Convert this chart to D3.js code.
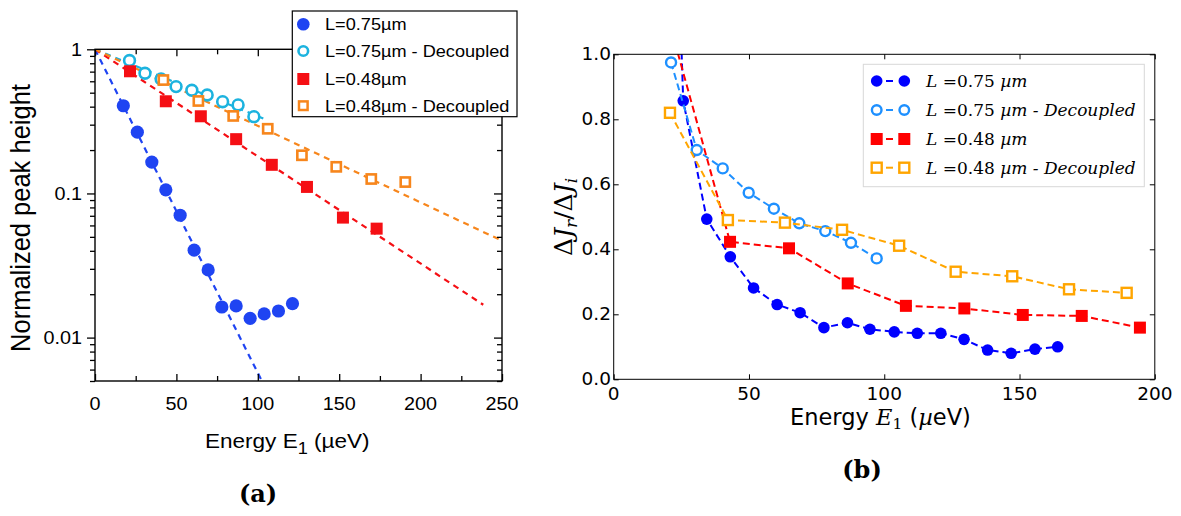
<!DOCTYPE html>
<html><head><meta charset="utf-8">
<script src="https://cdn.jsdelivr.net/npm/d3@7"></script>
<style>body{margin:0;background:#fff}svg{display:block}</style>
</head><body>
<svg id="c" width="1181" height="516"></svg>
<script>
// ---------------- DATA: panel (a) ----------------
const aEnergy075 = [17.4,26.0,34.9,43.5,52.3,60.9,69.5,77.9,86.7,95.3,103.9,112.7,121.3];
const aPeak075   = [0.406,0.266,0.165,0.106,0.0706,0.0404,0.0295,0.0163,0.0166,0.0136,0.0146,0.0153,0.0172];
const aEnergy075D = [21.2,30.7,40.6,49.8,59.5,68.9,78.4,87.9,97.6];
const aPeak075D   = [0.836,0.682,0.622,0.551,0.520,0.482,0.433,0.411,0.341];
const aEnergy048 = [21.5,43.5,65.0,86.7,108.6,130.2,152.3,173.0];
const aPeak048   = [0.704,0.436,0.343,0.238,0.158,0.111,0.068,0.057];
const aEnergy048D = [42.0,63.5,84.9,106.1,127.1,148.2,169.7,190.6];
const aPeak048D   = [0.612,0.438,0.345,0.281,0.184,0.153,0.126,0.120];
// exponential fits (straight lines on log axis), end points
const aFitEnergy075 = [0,102.5],  aFitPeak075 = [1,0.005];
const aFitEnergy075D = [0,105],   aFitPeak075D = [1,0.325];
const aFitEnergy048 = [0,238.5],  aFitPeak048 = [1,0.0169];
const aFitEnergy048D = [0,250],   aFitPeak048D = [1,0.047];
const aLegend = ["L=0.75\u00b5m","L=0.75\u00b5m - Decoupled","L=0.48\u00b5m","L=0.48\u00b5m - Decoupled"];
const aXTicks = [0,50,100,150,200,250];
const aXMinor = [25,75,125,175,225];
const aYTicks = [1,0.1,0.01];
const aYTickLabels = ["1","0.1","0.01"];
const aYMinor = [0.005,0.006,0.007,0.008,0.009,0.02,0.03,0.04,0.05,0.06,0.07,0.08,0.09,0.2,0.3,0.4,0.5,0.6,0.7,0.8,0.9];

// ---------------- DATA: panel (b) ----------------
const bEnergy075 = [17.4,25.7,34.4,43.1,51.7,60.4,68.9,77.7,86.4,94.7,103.7,112.2,120.9,129.5,138.2,146.9,155.7,164.1];
const bRatio075  = [2.9,0.857,0.493,0.377,0.281,0.230,0.205,0.159,0.174,0.154,0.146,0.1415,0.1415,0.123,0.090,0.080,0.093,0.100];
const bEnergy075D = [21.2,30.7,40.3,49.9,59.2,68.6,78.2,87.7,97.2];
const bRatio075D  = [0.975,0.7055,0.649,0.574,0.525,0.480,0.456,0.420,0.372];
const bEnergy048 = [21.5,43.0,64.8,86.5,108.0,129.6,151.2,173.0,194.5];
const bRatio048  = [1.07,0.423,0.403,0.295,0.226,0.218,0.198,0.195,0.159];
const bEnergy048D = [20.8,42.2,63.3,84.4,105.5,126.4,147.3,168.3,189.6];
const bRatio048D  = [0.820,0.490,0.482,0.460,0.411,0.331,0.317,0.277,0.266];
const bXTicks = [0,50,100,150,200];
const bYTicks = [0,0.2,0.4,0.6,0.8,1.0];
const bYTickLabels = ["0.0","0.2","0.4","0.6","0.8","1.0"];

// ---------------- helpers ----------------
const svg = d3.select("#c");
const zip = (xs, ys) => xs.map((x,i)=>({x, y: ys[i]}));
function stext(g, x, y, sx, str, o) {
  const t = g.append("text")
    .attr("transform", `translate(${x},${y}) scale(${sx},1)` + (o.rot ? " rotate(-90)" : ""))
    .attr("font-family", o.ff).attr("font-size", o.fs)
    .attr("text-anchor", o.anchor || "start").attr("fill", "#000");
  if (o.weight) t.attr("font-weight", o.weight);
  if (str !== null) t.text(str);
  return t;
}

// ================= PANEL (a) =================
const SANS = "'Liberation Sans', Arial, Helvetica, sans-serif";
const SXA = 1.1;
const A = {l:95, r:502, t:49.3, b:381};
const xA = d3.scaleLinear().domain([0,250]).range([A.l, A.r]);
const yA = d3.scaleLog().domain([0.005,1]).range([A.b, A.t]);
const ga = svg.append("g");
ga.append("clipPath").attr("id","clipA").append("rect")
  .attr("x",A.l).attr("y",A.t).attr("width",A.r-A.l).attr("height",A.b-A.t);

const colA = {b:"#1f44f2", c:"#1cb3df", r:"#f50f14", o:"#f7861c"};
const lineA = d3.line().x(d=>xA(d.x)).y(d=>yA(d.y));
const plotA = ga.append("g").attr("clip-path","url(#clipA)");
[[aFitEnergy075,aFitPeak075,colA.b],[aFitEnergy075D,aFitPeak075D,colA.c],
 [aFitEnergy048,aFitPeak048,colA.r],[aFitEnergy048D,aFitPeak048D,colA.o]].forEach(([xs,ys,c])=>{
  plotA.append("path").attr("d", lineA(zip(xs,ys))).attr("fill","none")
    .attr("stroke",c).attr("stroke-width",2.2).attr("stroke-dasharray","6,5");
});
plotA.selectAll(".pb").data(zip(aEnergy075,aPeak075)).join("circle")
  .attr("cx",d=>xA(d.x)).attr("cy",d=>yA(d.y)).attr("r",6.6).attr("fill",colA.b);
plotA.selectAll(".pc").data(zip(aEnergy075D,aPeak075D)).join("circle")
  .attr("cx",d=>xA(d.x)).attr("cy",d=>yA(d.y)).attr("r",5.4).attr("fill","#fff")
  .attr("stroke",colA.c).attr("stroke-width",2.6);
plotA.selectAll(".pr").data(zip(aEnergy048,aPeak048)).join("rect")
  .attr("x",d=>xA(d.x)-6).attr("y",d=>yA(d.y)-6).attr("width",12).attr("height",12).attr("fill",colA.r);
plotA.selectAll(".po").data(zip(aEnergy048D,aPeak048D)).join("rect")
  .attr("x",d=>xA(d.x)-4.6).attr("y",d=>yA(d.y)-4.6).attr("width",9.2).attr("height",9.2)
  .attr("fill","#fff").attr("stroke",colA.o).attr("stroke-width",2.6);

function styleAxis(sel){ sel.select(".domain").remove(); sel.selectAll("line").attr("stroke","#000").attr("stroke-width",1.3); sel.selectAll("text").remove(); }
ga.append("g").attr("transform",`translate(0,${A.b})`).call(d3.axisBottom(xA).tickValues(aXTicks).tickSize(-7)).call(styleAxis);
ga.append("g").attr("transform",`translate(0,${A.b})`).call(d3.axisBottom(xA).tickValues(aXMinor).tickSize(-5)).call(styleAxis);
ga.append("g").attr("transform",`translate(0,${A.t})`).call(d3.axisTop(xA).tickValues(aXTicks).tickSize(-7)).call(styleAxis);
ga.append("g").attr("transform",`translate(0,${A.t})`).call(d3.axisTop(xA).tickValues(aXMinor).tickSize(-5)).call(styleAxis);
ga.append("g").attr("transform",`translate(${A.l},0)`).call(d3.axisLeft(yA).tickValues(aYTicks).tickSize(8)).call(styleAxis);
ga.append("g").attr("transform",`translate(${A.l},0)`).call(d3.axisLeft(yA).tickValues(aYMinor).tickSize(5)).call(styleAxis);
ga.append("g").attr("transform",`translate(${A.r},0)`).call(d3.axisRight(yA).tickValues(aYTicks).tickSize(-8)).call(styleAxis);
ga.append("g").attr("transform",`translate(${A.r},0)`).call(d3.axisRight(yA).tickValues(aYMinor).tickSize(-5)).call(styleAxis);
ga.append("rect").attr("x",A.l).attr("y",A.t).attr("width",A.r-A.l).attr("height",A.b-A.t)
  .attr("fill","none").attr("stroke","#000").attr("stroke-width",1.4);

aXTicks.forEach(v=>stext(ga, xA(v), 409.5, SXA, String(v), {ff:SANS, fs:18, anchor:"middle"}));
aYTicks.forEach((v,i)=>stext(ga, 82, yA(v)+6.5, SXA, aYTickLabels[i], {ff:SANS, fs:18, anchor:"end"}));
stext(ga, 30, 218, SXA, "Normalized peak height", {ff:SANS, fs:25.5, anchor:"middle", rot:true});
{
  const t = stext(ga, 205, 448, SXA, null, {ff:SANS, fs:20.5, anchor:"start"});
  t.append("tspan").text("Energy E");
  t.append("tspan").attr("dy",6).attr("font-size",16.5).text("1");
  t.append("tspan").attr("dy",-6).text(" (\u00b5eV)");
}
// legend (a)
const legA = ga.append("g");
legA.append("rect").attr("x",292.3).attr("y",11).attr("width",224.7).attr("height",105.7)
  .attr("fill","#fff").attr("stroke","#000").attr("stroke-width",1.2);
const legRowsA = [24.3,51,79,105.7];
legA.append("circle").attr("cx",303.3).attr("cy",legRowsA[0]).attr("r",6.3).attr("fill",colA.b);
legA.append("circle").attr("cx",303.3).attr("cy",legRowsA[1]).attr("r",4.8).attr("fill","#fff").attr("stroke",colA.c).attr("stroke-width",2.6);
legA.append("rect").attr("x",297.3).attr("y",legRowsA[2]-6).attr("width",12).attr("height",12).attr("fill",colA.r);
legA.append("rect").attr("x",299).attr("y",legRowsA[3]-4.3).attr("width",8.6).attr("height",8.6).attr("fill","#fff").attr("stroke",colA.o).attr("stroke-width",2.5);
aLegend.forEach((s,i)=>stext(legA, 325, legRowsA[i]+6, SXA, s, {ff:SANS, fs:16.5}));
stext(ga, 258, 502, 1, "(a)", {ff:"'DejaVu Serif', serif", fs:24, anchor:"middle", weight:"bold"});

// ================= PANEL (b) =================
const DSANS = "'DejaVu Sans', sans-serif";
const SERIF = "'DejaVu Serif', serif";
const B = {l:613.7, r:1154.8, t:54.3, b:379.3};
const xB = d3.scaleLinear().domain([0,200]).range([B.l, B.r]);
const yB = d3.scaleLinear().domain([0,1]).range([B.b, B.t]);
const gb = svg.append("g");
gb.append("clipPath").attr("id","clipB").append("rect")
  .attr("x",B.l).attr("y",B.t).attr("width",B.r-B.l).attr("height",B.b-B.t);
const colB = {b:"#0000ff", c:"#1e90ff", r:"#ff0000", o:"#ffa500"};
const lineB = d3.line().x(d=>xB(d.x)).y(d=>yB(d.y));
const plotB = gb.append("g").attr("clip-path","url(#clipB)");
function seriesB(xs, ys, c, kind){
  const d = zip(xs,ys);
  plotB.append("path").attr("d",lineB(d)).attr("fill","none").attr("stroke",c)
    .attr("stroke-width",2).attr("stroke-dasharray","7,4");
  const g = plotB.append("g");
  if (kind==="fc") g.selectAll("circle").data(d).join("circle").attr("cx",p=>xB(p.x)).attr("cy",p=>yB(p.y)).attr("r",5.8).attr("fill",c);
  if (kind==="oc") g.selectAll("circle").data(d).join("circle").attr("cx",p=>xB(p.x)).attr("cy",p=>yB(p.y)).attr("r",5).attr("fill","#fff").attr("stroke",c).attr("stroke-width",2.4);
  if (kind==="fs") g.selectAll("rect").data(d).join("rect").attr("x",p=>xB(p.x)-6).attr("y",p=>yB(p.y)-6).attr("width",12).attr("height",12).attr("fill",c);
  if (kind==="os") g.selectAll("rect").data(d).join("rect").attr("x",p=>xB(p.x)-5).attr("y",p=>yB(p.y)-5).attr("width",10).attr("height",10).attr("fill","#fff").attr("stroke",c).attr("stroke-width",2.4);
}
seriesB(bEnergy075, bRatio075, colB.b, "fc");
seriesB(bEnergy075D, bRatio075D, colB.c, "oc");
seriesB(bEnergy048, bRatio048, colB.r, "fs");
seriesB(bEnergy048D, bRatio048D, colB.o, "os");

function styleAxisB(sel){ sel.select(".domain").remove(); sel.selectAll("line").attr("stroke","#000").attr("stroke-width",1); sel.selectAll("text").remove(); }
gb.append("g").attr("transform",`translate(0,${B.b})`).call(d3.axisBottom(xB).tickValues(bXTicks).tickSize(-5)).call(styleAxisB);
gb.append("g").attr("transform",`translate(0,${B.t})`).call(d3.axisTop(xB).tickValues(bXTicks).tickSize(-5)).call(styleAxisB);
gb.append("g").attr("transform",`translate(${B.l},0)`).call(d3.axisLeft(yB).tickValues(bYTicks).tickSize(-5)).call(styleAxisB);
gb.append("g").attr("transform",`translate(${B.r},0)`).call(d3.axisRight(yB).tickValues(bYTicks).tickSize(-5)).call(styleAxisB);
gb.append("rect").attr("x",B.l).attr("y",B.t).attr("width",B.r-B.l).attr("height",B.b-B.t)
  .attr("fill","none").attr("stroke","#000").attr("stroke-width",1);

bXTicks.forEach(v=>stext(gb, xB(v), 400, 1, String(v), {ff:DSANS, fs:18.5, anchor:"middle"}));
bYTicks.forEach((v,i)=>stext(gb, 611, yB(v)+6, 1, bYTickLabels[i], {ff:DSANS, fs:18.5, anchor:"end"}));
{
  const t = stext(gb, 572, 217, 1, null, {ff:SERIF, fs:25, anchor:"middle", rot:true});
  t.append("tspan").text("\u0394");
  t.append("tspan").attr("font-style","italic").text("J");
  t.append("tspan").attr("font-style","italic").attr("font-size",17).attr("dy",5).text("r");
  t.append("tspan").attr("dy",-5).text("/\u0394");
  t.append("tspan").attr("font-style","italic").text("J");
  t.append("tspan").attr("font-style","italic").attr("font-size",17).attr("dy",5).text("i");
}
{
  const t = stext(gb, 790, 425, 1, null, {ff:DSANS, fs:22.5, anchor:"start"});
  t.append("tspan").text("Energy ");
  t.append("tspan").attr("font-family",SERIF).attr("font-style","italic").text("E");
  t.append("tspan").attr("font-family",SERIF).attr("font-size",15.5).attr("dy",4).text("1");
  t.append("tspan").attr("dy",-4).text(" (");
  t.append("tspan").attr("font-family",SERIF).attr("font-style","italic").text("\u00b5");
  t.append("tspan").text("eV)");
}
// legend (b)
const legB = gb.append("g");
legB.append("rect").attr("x",863.3).attr("y",64.3).attr("width",281).attr("height",122.4)
  .attr("fill","#fff").attr("stroke","#d8d8d8").attr("stroke-width",1);
const legRowsB = [81,110,139,167.7];
const legKinds = [["fc",colB.b],["oc",colB.c],["fs",colB.r],["os",colB.o]];
const legTextB = [["0.75",""],["0.75"," - Decoupled"],["0.48",""],["0.48"," - Decoupled"]];
legKinds.forEach(([k,c],i)=>{
  const y = legRowsB[i];
  legB.append("line").attr("x1",884).attr("x2",897).attr("y1",y).attr("y2",y)
    .attr("stroke",c).attr("stroke-width",2).attr("stroke-dasharray","7,4").attr("stroke-dashoffset",-2);
  [876.7,904.3].forEach(x=>{
    if (k==="fc") legB.append("circle").attr("cx",x).attr("cy",y).attr("r",5.8).attr("fill",c);
    if (k==="oc") legB.append("circle").attr("cx",x).attr("cy",y).attr("r",4.8).attr("fill","#fff").attr("stroke",c).attr("stroke-width",2.4);
    if (k==="fs") legB.append("rect").attr("x",x-6).attr("y",y-6).attr("width",12).attr("height",12).attr("fill",c);
    if (k==="os") legB.append("rect").attr("x",x-5).attr("y",y-5).attr("width",10).attr("height",10).attr("fill","#fff").attr("stroke",c).attr("stroke-width",2.4);
  });
  const t = stext(legB, 926, y+6, 1, null, {ff:SERIF, fs:17});
  t.append("tspan").attr("font-style","italic").text("L");
  t.append("tspan").text(" =" + legTextB[i][0] + " ");
  t.append("tspan").attr("font-style","italic").text("\u00b5m" + legTextB[i][1]);
});
stext(gb, 862, 478, 1, "(b)", {ff:SERIF, fs:24, anchor:"middle", weight:"bold"});
</script>
</body></html>
